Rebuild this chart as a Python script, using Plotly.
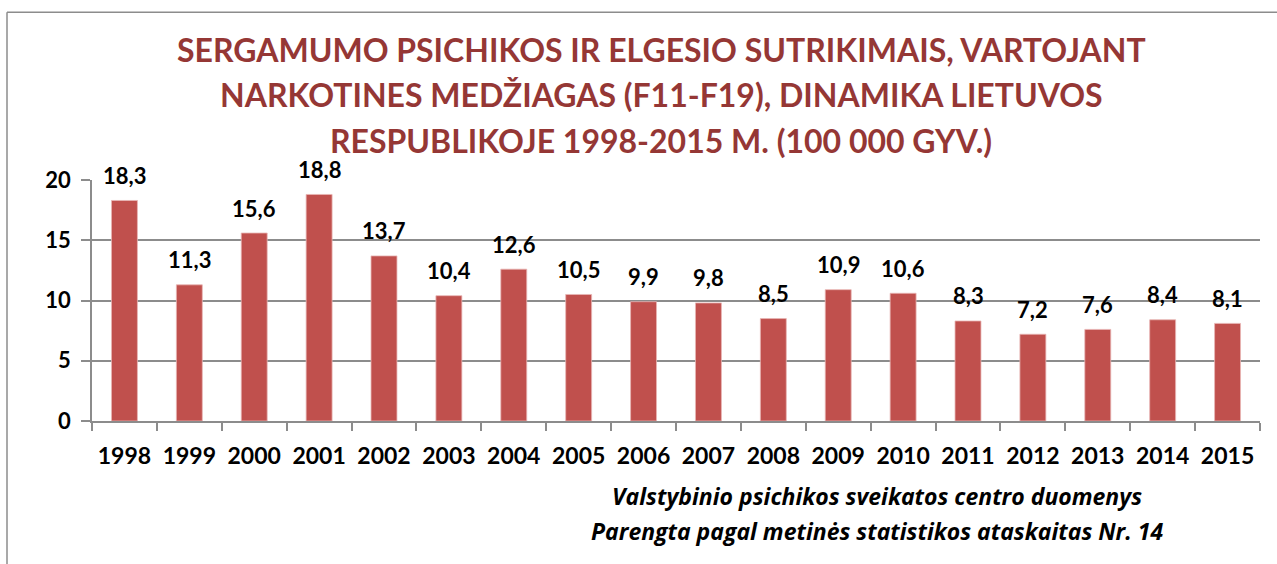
import plotly.graph_objects as go

years = [str(y) for y in range(1998, 2016)]
values = [18.3, 11.3, 15.6, 18.8, 13.7, 10.4, 12.6, 10.5, 9.9, 9.8,
          8.5, 10.9, 10.6, 8.3, 7.2, 7.6, 8.4, 8.1]

title_lines = [
    "SERGAMUMO PSICHIKOS IR ELGESIO SUTRIKIMAIS, VARTOJANT",
    "NARKOTINES MEDŽIAGAS (F11-F19), DINAMIKA LIETUVOS",
    "RESPUBLIKOJE 1998-2015 M. (100 000 GYV.)",
]
source_lines = [
    "Valstybinio psichikos sveikatos centro duomenys",
    "Parengta pagal metinės statistikos ataskaitas Nr. 14",
]

W, H = 1277, 564
PL, PR, PT, PB = 92, 1260, 179.5, 421.5
FONT = "Lato"


def px_x(p):
    return (p - PL) / (PR - PL)


def px_y(p):
    return (PB - p) / (PB - PT)


fig = go.Figure(go.Bar(
    x=years,
    y=values,
    marker=dict(color="#C0504D", line=dict(color="#E8B6B5", width=0.8)),
    hoverinfo="x+y",
))

# data labels above bars (x given as category index)
for i, v in enumerate(values):
    fig.add_annotation(
        x=i, y=v, text=f"{v:.1f}".replace(".", ","),
        showarrow=False, yanchor="middle", yshift=25,
        font=dict(family=FONT, size=22, color="black", weight="bold"),
    )

# title lines
for i, line in enumerate(title_lines):
    fig.add_annotation(
        xref="paper", yref="paper", x=px_x(661), y=px_y(48 + i * 46),
        text=line, showarrow=False, xanchor="center", yanchor="middle",
        font=dict(family=FONT, size=32, color="#953735", weight="bold"),
    )

# source note
for i, line in enumerate(source_lines):
    fig.add_annotation(
        xref="paper", yref="paper", x=px_x(877), y=px_y(497 + i * 35),
        text=f"<i>{line}</i>", showarrow=False, xanchor="center", yanchor="middle",
        font=dict(family="Open Sans", size=23, color="black", weight="bold"),
    )

# chart frame (left and top edges visible)
fig.add_shape(type="line", xref="paper", yref="paper",
              x0=px_x(7), x1=px_x(7), y0=px_y(11), y1=px_y(H + 5),
              line=dict(color="#8C8C8C", width=1.5))
fig.add_shape(type="line", xref="paper", yref="paper",
              x0=px_x(7), x1=px_x(W + 5), y0=px_y(11), y1=px_y(11),
              line=dict(color="#8C8C8C", width=1.5))

fig.update_layout(
    width=W, height=H,
    margin=dict(l=PL, r=W - PR, t=PT, b=H - PB, autoexpand=False),
    paper_bgcolor="white",
    plot_bgcolor="white",
    bargap=0.6,
    showlegend=False,
    font=dict(family=FONT, size=20, color="black"),
)
fig.update_xaxes(
    type="category", range=[-0.5, len(years) - 0.5], autorange=False,
    showline=True, linecolor="#8C8C8C", linewidth=1.5,
    ticks="outside", tickson="boundaries", ticklen=8, tickcolor="#8C8C8C",
    tickwidth=1.5, tickangle=0, ticklabelstandoff=14,
    tickfont=dict(family=FONT, size=23, color="black", weight="bold"),
    showgrid=False,
)
fig.update_yaxes(
    range=[0, 20], dtick=5, autorange=False,
    showline=True, linecolor="#8C8C8C", linewidth=1.5,
    ticks="outside", ticklen=9, tickcolor="#8C8C8C", tickwidth=1.5,
    ticklabelstandoff=6,
    showgrid=True, gridcolor="#8C8C8C", gridwidth=1.5,
    zeroline=False,
    tickfont=dict(family=FONT, size=22, color="black", weight="bold"),
)

fig.write_html(
    "out.html",
    config={"displayModeBar": False},
    post_script="document.body.style.margin='0';",
)
